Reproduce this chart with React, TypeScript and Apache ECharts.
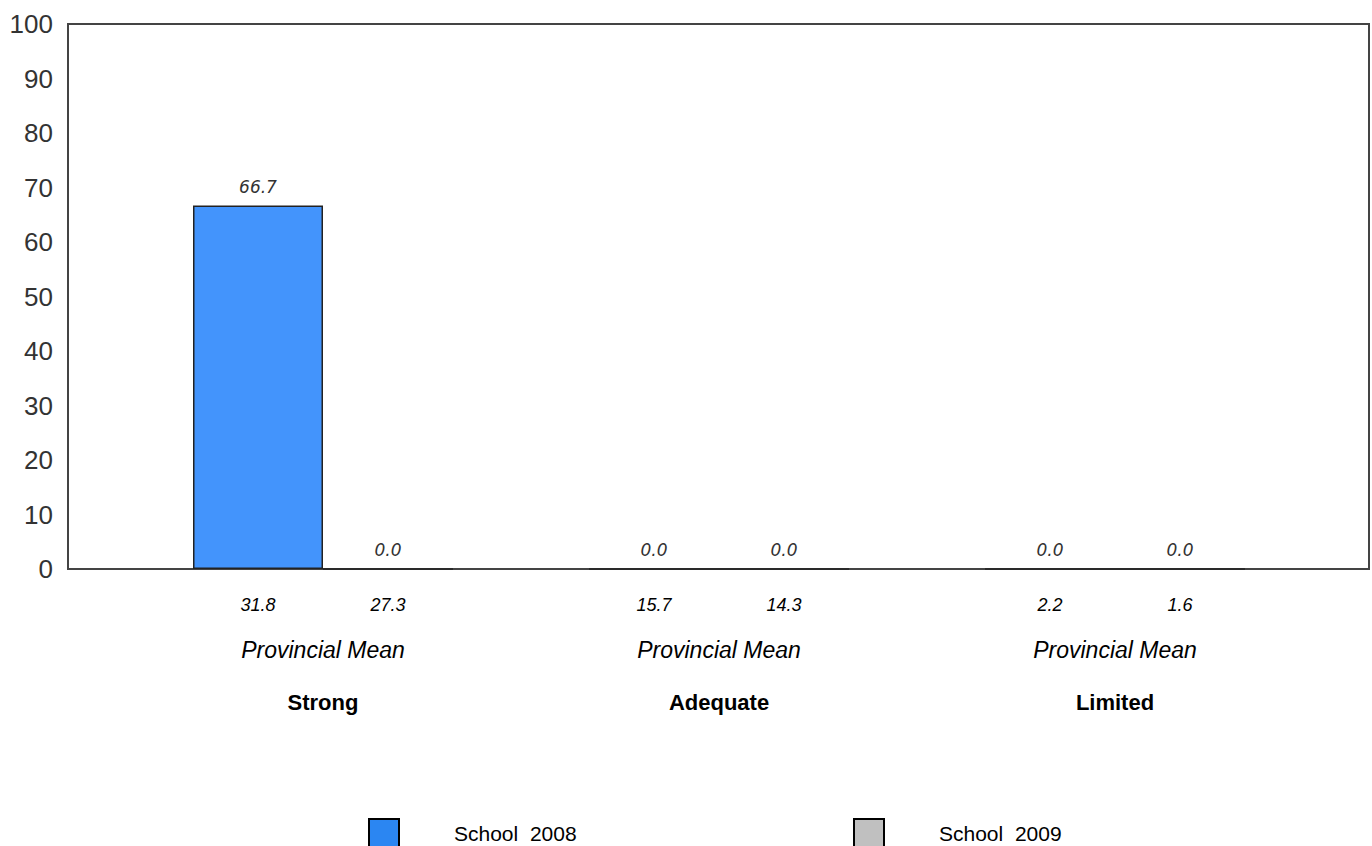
import React, { useEffect, useRef } from "react";
import * as echarts from "echarts";

const categories = ["Strong", "Adequate", "Limited"];
const school2008 = [66.7, 0.0, 0.0];
const school2009 = [0.0, 0.0, 0.0];
const provincialMean2008 = [31.8, 15.7, 2.2];
const provincialMean2009 = [27.3, 14.3, 1.6];
const seriesNames = ["School  2008", "School  2009"];
const yTicks = { min: 0, max: 100, interval: 10 };

export default function App() {
  const ref = useRef<HTMLDivElement>(null);
  useEffect(() => {
    if (!ref.current) return;
    const chart = echarts.init(ref.current, null, { renderer: "svg" });
    const labelStyle = {
      show: true,
      position: "top",
      distance: 10,
      fontFamily: "DejaVu Sans",
      fontStyle: "italic",
      fontSize: 17,
      color: "#333",
      formatter: (p: any) => Number(p.value).toFixed(1),
    };
    const legendText = { fontFamily: "Liberation Sans", fontSize: 21, color: "#000", padding: [0, 0, 0, 50] };
    chart.setOption({
      animation: false,
      backgroundColor: "#fff",
      grid: [
        { left: 68, top: 24, right: 3, bottom: 277, show: true, borderColor: "#444", borderWidth: 2, backgroundColor: "transparent" },
        { left: 125, top: 24, right: 59, bottom: 277 },
      ],
      xAxis: [
        { gridIndex: 0, type: "value", show: false, min: 0, max: 1 },
        {
          gridIndex: 1,
          type: "category",
          data: categories,
          axisLine: { show: false },
          axisTick: { show: false },
          axisLabel: {
            interval: 0,
            margin: 16,
            formatter: (val: string, idx: number) =>
              `{v|${provincialMean2008[idx].toFixed(1)}}{v|${provincialMean2009[idx].toFixed(1)}}\n{pm|Provincial Mean}\n{c|${val}}`,
            rich: {
              v: { width: 130, align: "center", fontFamily: "Liberation Sans", fontStyle: "italic", fontSize: 18, color: "#000", lineHeight: 40 },
              pm: { fontFamily: "Liberation Sans", fontStyle: "italic", fontSize: 23, color: "#000", lineHeight: 50 },
              c: { fontFamily: "Liberation Sans", fontWeight: "bold", fontSize: 22, color: "#000", lineHeight: 54 },
            },
          },
        },
      ],
      yAxis: [
        {
          gridIndex: 0,
          type: "value",
          ...yTicks,
          axisLine: { show: false },
          axisTick: { show: false },
          splitLine: { show: false },
          axisLabel: { margin: 15, fontFamily: "Liberation Sans", fontSize: 26, color: "#333" },
        },
        { gridIndex: 1, type: "value", ...yTicks, show: false, splitLine: { show: false } },
      ],
      legend: [
        {
          left: 368,
          top: 818,
          padding: 0,
          icon: "rect",
          itemWidth: 30,
          itemHeight: 28,
          data: [{ name: seriesNames[0], itemStyle: { color: "#2b86f2", borderColor: "#000", borderWidth: 2 } }],
          textStyle: legendText,
        },
        {
          left: 853,
          top: 818,
          padding: 0,
          icon: "rect",
          itemWidth: 30,
          itemHeight: 28,
          data: [{ name: seriesNames[1], itemStyle: { color: "#c0c0c0", borderColor: "#000", borderWidth: 2 } }],
          textStyle: legendText,
        },
      ],
      series: [
        {
          name: seriesNames[0],
          type: "bar",
          xAxisIndex: 1,
          yAxisIndex: 1,
          data: school2008,
          barWidth: 130,
          barGap: "0%",
          itemStyle: { color: "#4394fc", borderColor: "#222", borderWidth: 1.5 },
          label: labelStyle,
        },
        {
          name: seriesNames[1],
          type: "bar",
          xAxisIndex: 1,
          yAxisIndex: 1,
          data: school2009,
          barWidth: 130,
          barGap: "0%",
          itemStyle: { color: "#c0c0c0", borderColor: "#222", borderWidth: 1.5 },
          label: labelStyle,
        },
      ],
    });
    return () => chart.dispose();
  }, []);
  return <div ref={ref} style={{ width: 1372, height: 846, position: "absolute", left: 0, top: 0 }} />;
}
